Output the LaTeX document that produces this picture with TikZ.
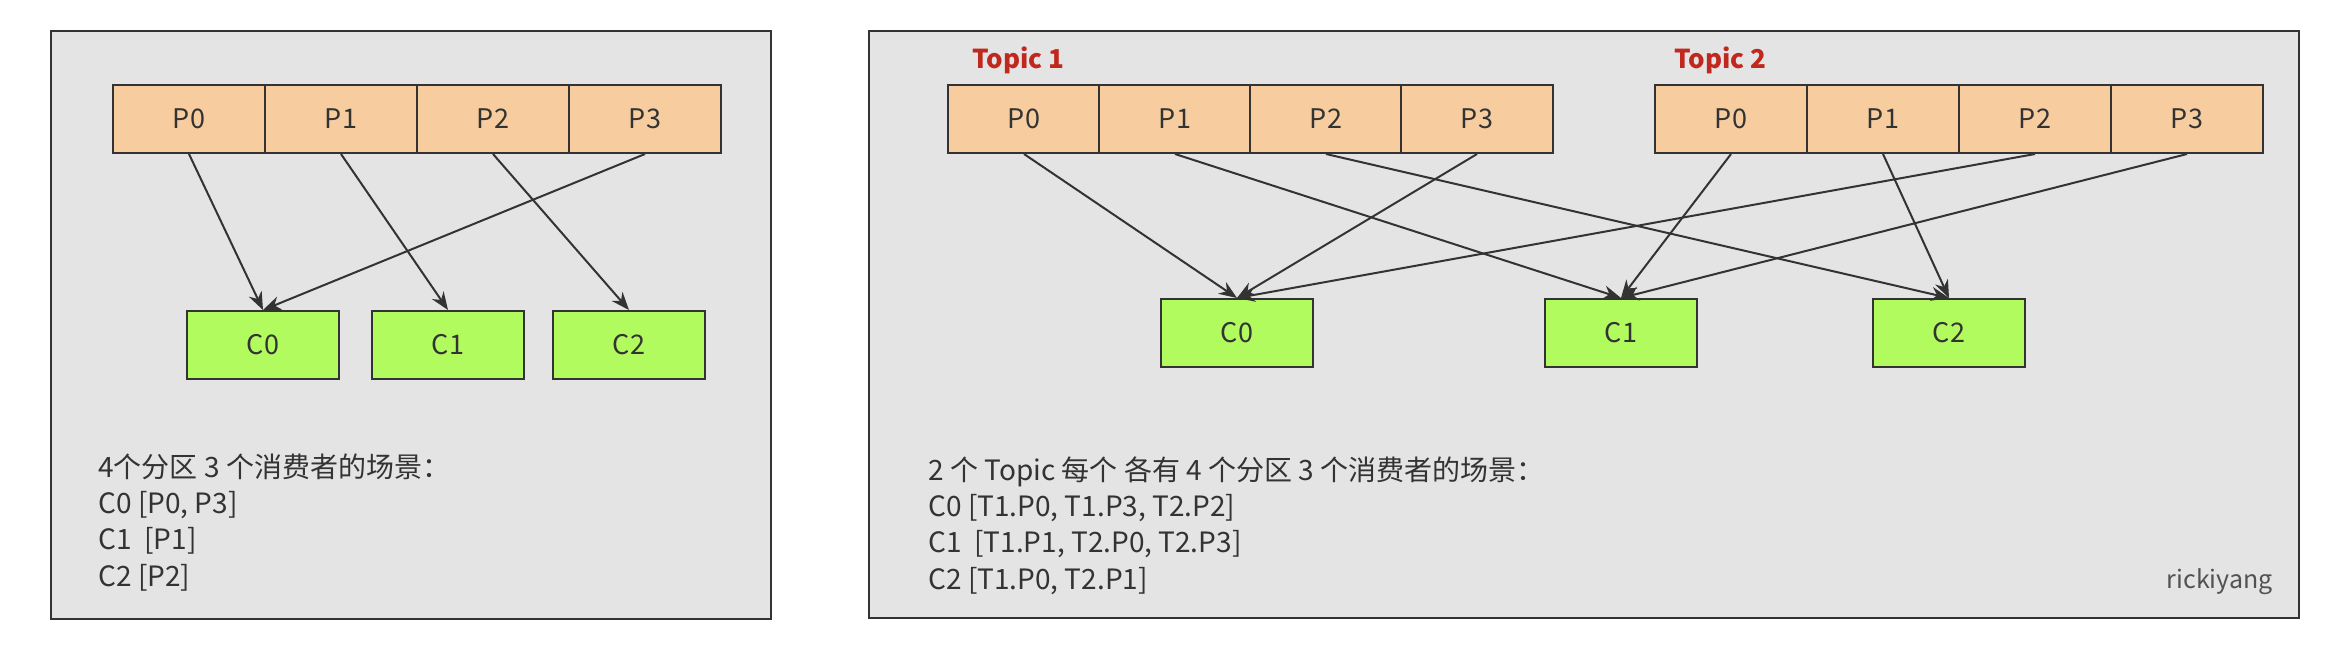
\documentclass[tikz,border=0pt]{standalone}
\usepackage{fontspec}
\setmainfont{Noto Sans CJK SC}
\usepackage{tikz}
\usetikzlibrary{
    arrows.meta,
    positioning
}
\usepackage{xcolor}
\definecolor{panelgray}{HTML}{E4E4E4}
\definecolor{edgegray}{HTML}{333333}
\definecolor{partfill}{HTML}{F7CDA0}
\definecolor{consfill}{HTML}{B2FB5E}
\definecolor{topicred}{HTML}{C0281E}

\begin{document}
\begin{tikzpicture}[
        x=0.5pt,
        y=-0.5pt,
        >={Stealth[length=9pt,width=7pt]},
        panel/.style={
            draw=edgegray,
            fill=panelgray,
            line width=1pt
        },
        part/.style={
            rectangle,
            draw=edgegray,
            fill=partfill,
            line width=1pt,
            minimum width=76pt,
            minimum height=34pt,
            inner sep=0pt,
            text=edgegray,
            font=\fontsize{13.5}{15}\selectfont
        },
        cons/.style={part, fill=consfill},
        topic/.style={
            anchor=base west,
            inner sep=0pt,
            text=topicred,
            font=\fontsize{13}{15}\selectfont\bfseries
        },
        note/.style={
            anchor=base west,
            inner sep=0pt,
            text=edgegray,
            font=\fontsize{14}{16}\selectfont
        },
        link/.style={->, draw=edgegray, line width=1pt}
    ]

    \useasboundingbox (0,0) rectangle (2346,666);

    % left panel
    \draw[panel] (51,31) rectangle (771,619);

    \node[part] (LP0) at (189,119) {P0};
    \node[part] (LP1) at (341,119) {P1};
    \node[part] (LP2) at (493,119) {P2};
    \node[part] (LP3) at (645,119) {P3};

    \node[cons] (LC0) at (263,345) {C0};
    \node[cons] (LC1) at (448,345) {C1};
    \node[cons] (LC2) at (629,345) {C2};

    \draw[link] (LP0.south) -- (LC0.north);
    \draw[link] (LP1.south) -- (LC1.north);
    \draw[link] (LP2.south) -- (LC2.north);
    \draw[link] (LP3.south) -- (LC0.north);

    \node[note] (LN0) at (98,477) {4个分区 3 个消费者的场景：};
    \node[note] (LN1) at (98,513) {C0 [P0, P3]};
    \node[note] (LN2) at (98,549) {C1~~[P1]};
    \node[note] (LN3) at (98,586) {C2 [P2]};

    % right panel
    \draw[panel] (869,31) rectangle (2299,618);

    \node[topic] (T1) at (972,68) {Topic 1};
    \node[topic] (T2) at (1674,68) {Topic 2};

    \node[part] (T1P0) at (1024,119) {P0};
    \node[part] (T1P1) at (1175,119) {P1};
    \node[part] (T1P2) at (1326,119) {P2};
    \node[part] (T1P3) at (1477,119) {P3};

    \node[part] (T2P0) at (1731,119) {P0};
    \node[part] (T2P1) at (1883,119) {P1};
    \node[part] (T2P2) at (2035,119) {P2};
    \node[part] (T2P3) at (2187,119) {P3};

    \node[cons] (RC0) at (1237,333) {C0};
    \node[cons] (RC1) at (1621,333) {C1};
    \node[cons] (RC2) at (1949,333) {C2};

    \draw[link] (T1P0.south) -- (RC0.north);
    \draw[link] (T1P1.south) -- (RC1.north);
    \draw[link] (T1P2.south) -- (RC2.north);
    \draw[link] (T1P3.south) -- (RC0.north);
    \draw[link] (T2P0.south) -- (RC1.north);
    \draw[link] (T2P1.south) -- (RC2.north);
    \draw[link] (T2P2.south) -- (RC0.north);
    \draw[link] (T2P3.south) -- (RC1.north);

    \node[note] (RN0) at (928,480) {2 个 Topic 每个 各有 4 个分区 3 个消费者的场景：};
    \node[note] (RN1) at (928,516) {C0 [T1.P0, T1.P3, T2.P2]};
    \node[note] (RN2) at (928,552) {C1~~[T1.P1, T2.P0, T2.P3]};
    \node[note] (RN3) at (928,589) {C2 [T1.P0, T2.P1]};

    \node[anchor=base east, inner sep=0pt, text=edgegray!85!white,
        font=\fontsize{12.5}{15}\selectfont] (author) at (2273,588) {rickiyang};

\end{tikzpicture}
\end{document}
